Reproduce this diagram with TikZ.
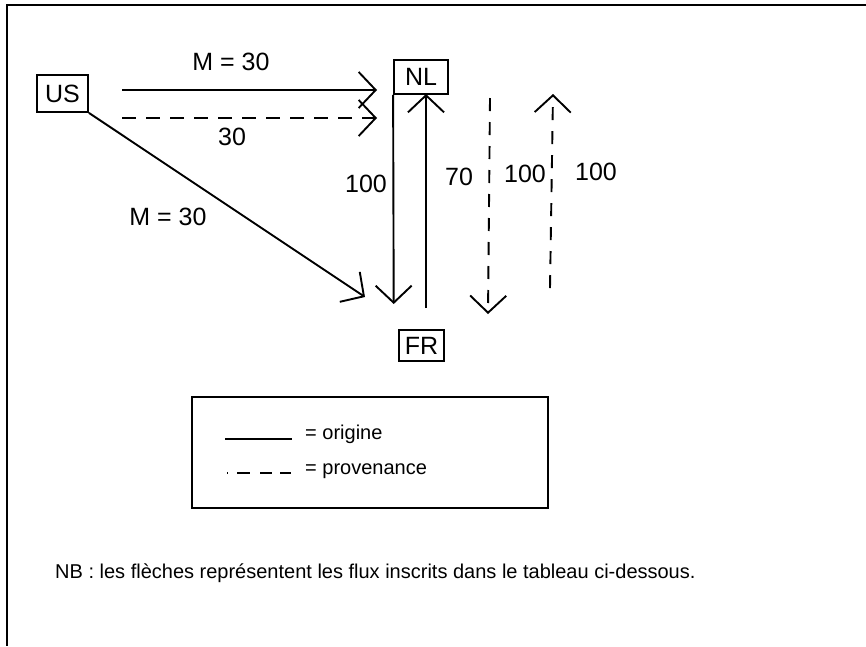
\documentclass[tikz,border=0pt]{standalone}
\usepackage{fontspec}
\setmainfont{Liberation Sans}
\usetikzlibrary{arrows.meta}
\tikzset{
  lab/.style={font=\fontsize{25}{29}\selectfont, inner sep=0pt},
  cbox/.style={draw, line width=1.8pt, inner sep=0pt, font=\fontsize{25}{29}\selectfont},
  flow/.style={line width=1.9pt, -{Straight Barb[length=17pt,width=36pt,line width=1.9pt]}},
  dflow/.style={flow, dash pattern=on 14pt off 10pt},
  vdflow/.style={flow, dash pattern=on 13pt off 11pt},
  legtext/.style={font=\fontsize{20}{24}\selectfont, inner sep=0pt, anchor=west},
}
\begin{document}
\begin{tikzpicture}[x=1pt,y=-1pt]
\useasboundingbox (0,0) rectangle (866,646);
% frame
\draw[line width=2.2pt] (866,5) -- (7,5) -- (7,646);
% country boxes
\node[cbox, minimum width=51pt, minimum height=37pt] (US) at (62.5,93.5) {US};
\node[cbox, minimum width=54pt, minimum height=34pt] (NL) at (421,77) {NL};
\node[cbox, minimum width=45pt, minimum height=31pt] (FR) at (421.5,345.5) {FR};
% free ends
\coordinate (h1s) at (122,90);   \coordinate (h1e) at (377,90);
\coordinate (h2s) at (122,118);  \coordinate (h2e) at (377,118);
\coordinate (dge) at (365,297);
\coordinate (v1e) at (393.7,304);
\coordinate (v2s) at (426,308);  \coordinate (v2e) at (426,94);
\coordinate (v3s) at (490,98);   \coordinate (v3e) at (488,314);
\coordinate (v4s) at (550,288);  \coordinate (v4e) at (553,94);
% connectors
\draw[flow] (h1s) -- (h1e);
\draw[dflow] (h2s) -- (h2e);
\draw[flow] (US.south east) -- (dge);
\draw[flow] (NL.south west) -- (v1e);
\draw[flow] (v2s) -- (v2e);
\draw[vdflow] (v3s) -- (v3e);
\draw[vdflow] (v4s) -- (v4e);
% labels
\node[lab] (l1) at (231,62) {M = 30};
\node[lab] (l2) at (232,137) {30};
\node[lab] (l3) at (168,217) {M = 30};
\node[lab] (l4) at (366,184) {100};
\node[lab] (l5) at (459,177) {70};
\node[lab] (l6) at (525,174) {100};
\node[lab] (l7) at (596,172) {100};
% legend
\node[draw, line width=1.8pt, minimum width=356pt, minimum height=111pt, inner sep=0pt] (leg) at (370,452.5) {};
\coordinate (s1) at (225,439); \coordinate (s2) at (292,439);
\coordinate (d1) at (227,473); \coordinate (d2) at (291,473);
\draw[line width=1.8pt] (s1) -- (s2);
\draw[line width=1.8pt, dash pattern=on 1pt off 9pt on 13pt off 10pt on 12pt off 8pt on 12pt off 100pt] (d1) -- (d2);
\node[legtext] (t1) at (305,434) {= origine};
\node[legtext] (t2) at (305,471) {= provenance};
% note
\node[font=\fontsize{20}{24}\selectfont, inner sep=0pt, anchor=base west] (nb) at (55,578)
  {NB : les flèches représentent les flux inscrits dans le tableau ci-dessous.};
\end{tikzpicture}
\end{document}
